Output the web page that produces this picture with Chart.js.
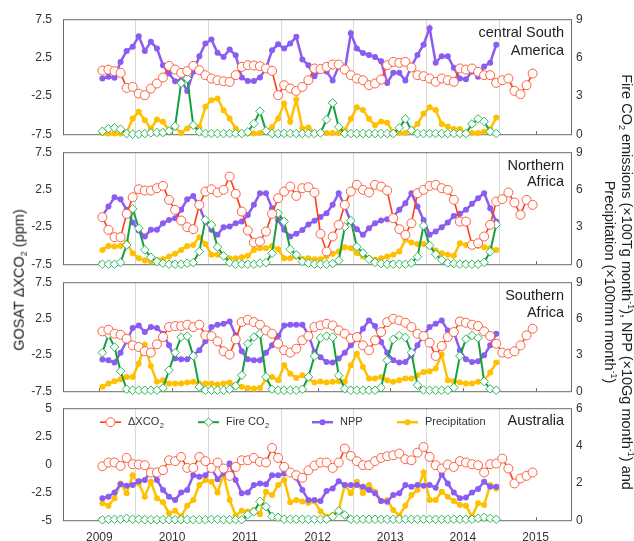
<!DOCTYPE html>
<html>
<head>
<meta charset="utf-8">
<script src="https://cdn.jsdelivr.net/npm/chart.js@4.4.1/dist/chart.umd.min.js"></script>
<style>
  body { margin: 0; background: #fff; }
  #wrap { position: relative; width: 634px; height: 541px; overflow: hidden; font-family: 'Liberation Sans', Arial, sans-serif; color: #222; }
  #wrap canvas { position: absolute; left: 0; }
  .axis-title { position: absolute; white-space: nowrap; font-size: 14.5px; line-height: 1; }
  .axis-title sub, .axis-title sup { font-size: 9px; line-height: 0; }
  .axis-title sub { vertical-align: -3px; }
  .axis-title sup { vertical-align: 6px; }
</style>
</head>
<body>
<div id="wrap">
  <canvas id="p0"></canvas>
  <canvas id="p1"></canvas>
  <canvas id="p2"></canvas>
  <canvas id="p3"></canvas>
  <div class="axis-title" style="left:19px;top:280px;transform:translate(-50%,-50%) rotate(-90deg)">GOSAT ΔXCO<sub>2</sub> (ppm)</div>
  <div class="axis-title" style="left:627px;top:282px;transform:translate(-50%,-50%) rotate(90deg)">Fire CO<sub>2</sub> emissions (×100Tg month<sup>-1</sup>), NPP (×10Gg month<sup>-1</sup>) and</div>
  <div class="axis-title" style="left:610px;top:282px;transform:translate(-50%,-50%) rotate(90deg)">Precipitation (×100mm month<sup>-1</sup>)</div>
</div>
<script>
// monthly series start in July 2009
const startYear = 2009;
const startMonth = 7;
const yearLabels = ['2009', '2010', '2011', '2012', '2013', '2014', '2015'];

// central South America
const csaXco2 = [0.8, 0.93, 0.72, 0.5, -1.46, -1.33, -2.2, -2.41, -1.54, -0.89,
  -0.11, 1.41, 0.93, 0.5, 0.72, 1.41, 0.85, 0.2, -0.24, -0.46,
  -0.59, -0.67, 0.2, 1.28, 1.5, 1.46, 1.37, 1.07, 0.76, -2.41,
  -1.11, -1.54, -1.85, -1.33, -0.46, 1.07, 1.0, 1.28, 1.59, 1.59,
  0.93, 0.2, -0.24, -0.46, -1.11, -0.89, -0.37, 1.5, 1.93, 1.8,
  1.93, 1.2, 0.2, 0.07, -0.24, -0.67, -0.24, -0.46, -0.67, 1.07,
  0.93, 1.07, 0.63, 0.2, 0.2, -0.8, -0.46, -0.24, -1.85, -2.28,
  -1.11, 0.41];
const csaFire = [0.23, 0.44, 0.5, 0.39, 0.05, 0, 0, 0.05, 0.1, 0.13,
  0.13, 0.26, 0.63, 4.0, 4.36, 0.7, 0.18, 0.05, 0.05, 0.05,
  0.05, 0.05, 0.05, 0.05, 0.18, 0.83, 1.8, 0.26, 0.05, 0.05,
  0.05, 0.05, 0.05, 0.05, 0.05, 0.05, 0.1, 1.15, 2.45, 0.57,
  0.05, 0.05, 0.05, 0.05, 0.05, 0.05, 0.05, 0.05, 0.05, 0.5,
  1.2, 0.3, 0.05, 0.05, 0.05, 0.05, 0.05, 0.05, 0.05, 0.05,
  0.05, 0.8, 1.2, 1.0, 0.2, 0.05];
const csaNpp = [4.36, 4.49, 4.41, 5.66, 6.52, 6.84, 7.67, 6.52, 7.23, 6.71,
  5.4, 4.75, 4.15, 4.23, 3.39, 4.88, 6.1, 7.1, 7.41, 6.37,
  6.05, 6.63, 6.18, 4.43, 4.17, 4.17, 4.43, 5.14, 6.57, 7.04,
  6.71, 7.1, 7.62, 5.84, 5.4, 4.54, 5.0, 4.9, 4.2, 5.3,
  5.0, 7.9, 6.7, 6.35, 6.2, 6.05, 5.7, 4.0, 4.8, 4.8,
  4.2, 5.3, 6.2, 7.0, 8.3, 5.6, 6.1, 6.1, 5.2, 4.35,
  4.3, 4.9, 4.5, 5.3, 5.6, 7.0];
const csaPrecip = [0.1, 0.05, 0.05, 0.05, 0.13, 1.23, 1.75, 1.1, 0.44, 1.15,
  0.97, 0.31, 0.52, 0.1, 0.44, 0.7, 0.57, 2.14, 2.66, 2.79,
  1.88, 1.23, 0.44, 0.1, 0.05, 0.05, 0.1, 0.23, 0.57, 1.23,
  2.4, 0.97, 2.71, 0.44, 0.52, 0.1, 0.1, 0.1, 0.1, 0.1,
  0.3, 1.2, 2.1, 1.9, 1.2, 0.7, 1.0, 0.9, 0.15, 0.1,
  0.1, 0.3, 0.8, 1.6, 2.1, 1.9, 0.8, 0.6, 0.4, 0.4,
  0.1, 0.1, 0.1, 0.2, 0.4, 1.3];

// Northern Africa
const nafXco2 = [-1.2, -2.9, -3.88, -3.88, -0.76, 1.47, 2.54, 2.37, 2.37, 2.68,
  2.99, 1.12, -0.22, -1.65, -2.54, -2.81, 0.45, 2.23, 2.54, 2.1,
  2.46, 4.24, 1.92, -0.45, -2.99, -4.6, -4.46, -3.12, -0.76, 1.34,
  2.23, 2.9, 1.65, 2.68, 2.81, 2.1, -3.44, -5.8, -3.79, -2.23,
  0.45, 2.23, 3.13, 2.46, 2.1, 3.13, 2.9, 2.37, -1.34, -2.81,
  -3.57, -2.01, 2.01, 2.46, 2.99, 3.13, 2.68, 2.46, 1.12, -1.79,
  -1.79, -4.91, -4.69, -3.79, -2.23, 0.89, 1.21, 2.1, 0.76, -0.89,
  1.12, 0.45];
const nafFire = [0, 0, 0, 0.13, 1.55, 4.45, 2.89, 1.15, 0.56, 0.21,
  0.08, 0, 0, 0, 0.08, 0.13, 1.02, 3.56, 3.16, 1.37,
  0.67, 0.13, 0, 0, 0, 0, 0.08, 0.13, 0.88, 4.1,
  3.43, 1.2, 0.75, 0.21, 0.08, 0, 0, 0, 0.05, 0.3,
  3.0, 3.5, 1.4, 0.9, 0.4, 0.15, 0.05, 0, 0, 0,
  0, 0.1, 0.6, 3.1, 1.5, 0.8, 0.35, 0.1, 0.05, 0,
  0, 0, 0, 0.15, 1.0, 3.2];
const nafNpp = [3.88, 4.63, 5.38, 5.22, 4.37, 3.35, 2.71, 2.22, 2.76, 2.76,
  3.3, 3.56, 3.7, 4.37, 5.22, 5.49, 4.63, 3.43, 2.76, 2.36,
  2.97, 3.03, 3.3, 3.43, 3.96, 4.77, 5.71, 5.71, 4.5, 3.56,
  2.76, 2.22, 2.44, 2.74, 3.2, 3.5, 3.8, 4.1, 4.77, 5.71,
  4.63, 3.43, 2.81, 2.36, 2.89, 3.3, 3.51, 3.62, 3.83, 4.37,
  4.9, 5.71, 4.63, 3.56, 2.36, 2.63, 2.97, 3.35, 3.88, 4.05,
  4.37, 4.85, 5.3, 5.71, 4.5, 3.43];
const nafPrecip = [1.15, 1.47, 1.42, 1.47, 1.74, 0.88, 0.48, 0.29, 0.21, 0.35,
  0.4, 0.62, 0.83, 1.15, 1.47, 1.55, 2.17, 1.63, 0.75, 0.75,
  0.67, 0.48, 0.48, 0.56, 0.67, 1.15, 1.29, 1.29, 1.47, 1.21,
  0.48, 0.48, 0.62, 0.44, 0.48, 0.4, 0.4, 0.62, 0.83, 1.02,
  1.37, 1.29, 0.88, 0.62, 0.48, 0.35, 0.48, 0.62, 0.75, 1.02,
  1.96, 1.74, 1.63, 1.63, 1.47, 1.1, 0.88, 0.75, 0.67, 1.69,
  1.55, 1.47, 1.47, 1.37, 1.29, 1.15];

// Southern Africa
const safXco2 = [0.73, 0.96, 0.41, 0.27, -0.27, -1.19, -1.42, -2.01, -2.19, -1.05,
  -0.05, 1.33, 1.46, 1.46, 1.65, 1.33, 1.65, 0.18, 0.09, -0.64,
  -2.01, -2.47, -0.37, 2.01, 2.33, 2.01, 1.65, 0.87, 0.41, -0.96,
  -1.87, -2.19, -1.65, -0.5, 0.09, 1.33, 1.55, 1.78, 1.55, 0.87,
  0.41, -0.27, -0.05, -1.19, -1.87, -0.5, 0.64, 2.01, 2.47, 2.24,
  1.92, 1.33, 0.41, 0.09, -0.82, -2.65, -1.28, -0.05, 0.64, 2.1,
  1.92, 1.65, 1.46, 0.73, 0.09, -0.96, -2.19, -2.33, -2.01, -1.19,
  0.18, 1.1];
const safFire = [3.18, 4.66, 3.65, 1.65, 0.16, 0.08, 0.08, 0.08, 0.08, 0.08,
  0.27, 1.73, 3.18, 4.47, 4.55, 2.91, 0.36, 0.08, 0.08, 0.08,
  0.08, 0.16, 0.44, 1.32, 3.92, 4.47, 4.75, 1.18, 0.16, 0.08,
  0.08, 0.08, 0.08, 0.16, 1.18, 2.9, 4.4, 4.55, 4.47, 1.3,
  0.2, 0.08, 0.08, 0.08, 0.08, 0.08, 0.3, 2.55, 4.28, 4.6,
  4.45, 3.2, 0.5, 0.1, 0.08, 0.08, 0.08, 0.08, 0.3, 2.9,
  4.3, 4.6, 4.4, 0.8, 0.2, 0.08];
const safNpp = [2.61, 2.55, 2.36, 3.18, 4.12, 5.21, 5.43, 4.88, 5.3, 5.21,
  4.75, 3.79, 2.69, 2.63, 2.63, 2.96, 3.38, 4.12, 5.3, 5.49,
  5.57, 5.76, 4.61, 3.29, 2.63, 2.55, 2.55, 3.18, 3.79, 4.55,
  5.43, 5.49, 5.49, 5.49, 4.65, 3.24, 2.8, 2.41, 2.36, 2.69,
  3.18, 3.79, 4.34, 5.16, 5.84, 5.38, 4.06, 3.18, 2.55, 2.36,
  2.41, 2.96, 3.79, 4.61, 5.3, 5.57, 5.84, 5.02, 4.88, 3.38,
  2.63, 2.41, 2.47, 2.96, 3.79, 4.75];
const safPrecip = [0.36, 0.63, 0.82, 0.99, 1.18, 1.18, 2.28, 3.84, 2.09, 0.77,
  0.91, 0.63, 0.63, 0.63, 0.71, 0.77, 0.63, 0.63, 0.63, 0.55,
  0.63, 0.71, 0.49, 0.36, 0.27, 0.22, 0.27, 0.99, 1.18, 0.91,
  2.14, 1.45, 1.1, 1.32, 1.04, 0.71, 0.8, 0.71, 0.77, 0.82,
  0.77, 2.14, 3.1, 2.0, 1.04, 1.04, 1.18, 0.91, 0.77, 0.91,
  1.04, 1.04, 1.32, 1.59, 1.65, 1.87, 3.02, 0.91, 0.82, 0.71,
  0.63, 0.63, 0.77, 0.91, 1.54, 2.36];

// Australia
const ausXco2 = [-0.18, 0.15, 0.15, -0.15, 0.56, 0.0, -0.03, -0.09, -0.74, -0.74,
  -0.53, 0.35, 0.27, 0.65, -0.33, -0.33, 0.65, 0.27, -0.33, 0.15,
  -0.39, -1.04, -0.24, 0.35, 0.35, 0.56, 0.21, 0.15, 1.45, 0.56,
  -0.24, -0.74, -0.98, -1.21, -0.55, -0.12, 0.15, 0.15, -0.33, 0.15,
  1.39, 0.74, 0.27, -0.09, -0.09, 0.27, 0.56, 0.71, 0.8, 0.95,
  0.44, 0.35, 1.03, 1.54, 0.65, -0.09, -0.39, -0.03, -0.24, 0.27,
  0.15, 0.0, -0.09, -0.74, 0.0, 0.06, 0.5, -0.39, -1.72, -1.27,
  -1.04, -0.74];
const ausFire = [0.02, 0.05, 0.05, 0.05, 0.1, 0.05, 0.05, 0.03, 0.03, 0.03,
  0.03, 0.03, 0.03, 0.03, 0.03, 0.03, 0.03, 0.03, 0.05, 0.05,
  0.03, 0.03, 0.03, 0.03, 0.3, 0.45, 1.0, 0.73, 0.2, 0.15,
  0.05, 0.05, 0.05, 0.05, 0.05, 0.05, 0.05, 0.05, 0.2, 0.5,
  0.28, 0.05, 0.05, 0.05, 0.05, 0.05, 0.05, 0.05, 0.05, 0.05,
  0.05, 0.05, 0.05, 0.05, 0.05, 0.05, 0.05, 0.05, 0.05, 0.05,
  0.05, 0.05, 0.1, 0.15, 0.1, 0.05];
const ausNpp = [1.17, 1.26, 1.49, 1.92, 1.85, 1.88, 2.09, 2.15, 2.63, 2.15,
  1.62, 1.26, 1.08, 1.49, 1.62, 2.41, 2.33, 2.41, 2.77, 2.2,
  2.5, 3.04, 2.15, 1.44, 1.49, 1.88, 1.97, 1.92, 2.41, 2.41,
  2.5, 2.56, 2.27, 1.62, 1.08, 1.08, 1.03, 1.56, 1.7, 2.09,
  1.88, 1.88, 1.88, 1.79, 1.62, 1.44, 1.03, 0.99, 1.35, 1.44,
  1.88, 1.79, 1.88, 1.85, 1.88, 1.74, 2.45, 1.97, 1.49, 1.17,
  1.21, 1.49, 1.67, 2.06, 1.79, 1.79];
const ausPrecip = [0.91, 0.78, 1.17, 1.97, 1.44, 2.41, 1.97, 1.26, 2.06, 1.17,
  0.96, 0.37, 0.5, 0.2, 0.78, 1.08, 1.88, 2.15, 2.06, 1.49,
  2.45, 1.08, 0.25, 0.5, 0.46, 0.55, 0.32, 1.53, 1.35, 1.88,
  2.15, 0.96, 1.08, 1.0, 0.93, 1.0, 0.48, 0.2, 0.28, 0.55,
  1.88, 1.44, 2.06, 1.44, 1.88, 1.53, 1.03, 1.08, 0.55, 0.25,
  0.78, 1.35, 1.62, 2.56, 1.08, 1.08, 1.53, 1.26, 1.03, 0.82,
  0.78, 0.2, 0.91, 0.82, 1.88, 1.7];

const RED = '#ff3d17', RED_PT = '#ff5e3e';
const GREEN = '#15a040', GREEN_PT = '#2fb75a';
const PURPLE = '#8b5cf2';
const GOLD = '#ffc000';
const FRAME = '#6b6b6b';
const FONT = "'Liberation Sans', Arial, sans-serif";

Chart.defaults.font.family = FONT;
Chart.defaults.font.size = 12;
Chart.defaults.color = '#333';

// plot position in years: middle of each month
function monthPos(i) {
  const m = startMonth - 1 + i;
  return startYear + Math.floor(m / 12) + ((m % 12) + 0.5) / 12;
}
function toPoints(values) {
  return values.map((v, i) => ({ x: monthPos(i), y: v }));
}

const panels = [
  { id: 'p0', top: 19, bottom: 134, name: ['central South', 'America'], nameDy: [14, 32],
    xco2: csaXco2, fire: csaFire, npp: csaNpp, precip: csaPrecip,
    left: [-7.5, 7.5, 5], right: [0, 9, 3] },
  { id: 'p1', top: 152, bottom: 264, name: ['Northern', 'Africa'], nameDy: [14, 30],
    xco2: nafXco2, fire: nafFire, npp: nafNpp, precip: nafPrecip,
    left: [-7.5, 7.5, 5], right: [0, 9, 3] },
  { id: 'p2', top: 282, bottom: 391, name: ['Southern', 'Africa'], nameDy: [14, 31],
    xco2: safXco2, fire: safFire, npp: safNpp, precip: safPrecip,
    left: [-7.5, 7.5, 5], right: [0, 9, 3] },
  { id: 'p3', top: 408, bottom: 520, name: ['Australia'], nameDy: [12.5],
    xco2: ausXco2, fire: ausFire, npp: ausNpp, precip: ausPrecip,
    left: [-5, 5, 2.5], right: [0, 6, 2] }
];

// box around the plot plus short inward year ticks on the bottom edge
const framePlugin = {
  id: 'frame',
  beforeDatasetsDraw(chart) {
    const { ctx, chartArea: a, scales } = chart;
    ctx.save();
    ctx.strokeStyle = FRAME;
    ctx.lineWidth = 1;
    ctx.strokeRect(a.left + 0.5, a.top + 0.5, a.right - a.left - 1, a.bottom - a.top);
    ctx.beginPath();
    yearLabels.forEach((y, i) => {
      const px = Math.round(scales.x.getPixelForValue(2009.5 + i)) + 0.5;
      ctx.moveTo(px, a.bottom);
      ctx.lineTo(px, a.bottom - 3);
    });
    ctx.stroke();
    ctx.restore();
  }
};

const namePlugin = {
  id: 'panelName',
  afterDraw(chart, args, opts) {
    const { ctx, chartArea: a } = chart;
    ctx.save();
    ctx.font = '14.5px ' + FONT;
    ctx.fillStyle = '#222';
    ctx.textAlign = 'right';
    ctx.textBaseline = 'middle';
    opts.lines.forEach((t, i) => ctx.fillText(t, a.right - 8, a.top + opts.dy[i]));
    ctx.restore();
  }
};

function drawMarker(ctx, style, x, y, r, fill, stroke) {
  ctx.beginPath();
  if (style === 'rectRot') {
    ctx.moveTo(x - r, y); ctx.lineTo(x, y - r); ctx.lineTo(x + r, y); ctx.lineTo(x, y + r); ctx.closePath();
  } else {
    ctx.arc(x, y, r, 0, Math.PI * 2);
  }
  ctx.fillStyle = fill;
  ctx.fill();
  if (stroke) { ctx.strokeStyle = stroke; ctx.lineWidth = 1; ctx.stroke(); }
}

const legendItems = [
  { text: 'ΔXCO', sub: '2', ds: 0, x: 100 },
  { text: 'Fire CO', sub: '2', ds: 1, x: 198 },
  { text: 'NPP', sub: '', ds: 2, x: 312 },
  { text: 'Precipitation', sub: '', ds: 3, x: 397 }
];

const legendPlugin = {
  id: 'customLegend',
  afterDraw(chart) {
    const { ctx, chartArea: a } = chart;
    const y = a.top + 14;
    ctx.save();
    legendItems.forEach(it => {
      const ds = chart.data.datasets[it.ds];
      ctx.strokeStyle = ds.borderColor;
      ctx.lineWidth = ds.borderWidth;
      ctx.beginPath();
      ctx.moveTo(it.x, y); ctx.lineTo(it.x + 21, y);
      ctx.stroke();
      drawMarker(ctx, ds.pointStyle, it.x + 10.5, y, ds.pointRadius, ds.pointBackgroundColor,
        ds.pointBorderWidth ? ds.pointBorderColor : null);
      ctx.fillStyle = '#333';
      ctx.textAlign = 'left';
      ctx.textBaseline = 'middle';
      ctx.font = '11px ' + FONT;
      ctx.fillText(it.text, it.x + 28, y);
      if (it.sub) {
        const w = ctx.measureText(it.text).width;
        ctx.font = '7.5px ' + FONT;
        ctx.fillText(it.sub, it.x + 28 + w + 0.5, y + 3.5);
      }
    });
    ctx.restore();
  }
};

panels.forEach((p, k) => {
  const isLast = k === panels.length - 1;
  const padTop = 10;
  const padBottom = isLast ? 541 - p.bottom : 10;
  const canvas = document.getElementById(p.id);
  canvas.width = 634;
  canvas.height = p.bottom - p.top + padTop + padBottom;

  const plugins = [framePlugin, namePlugin];
  if (isLast) plugins.push(legendPlugin);

  const chart = new Chart(canvas, {
    type: 'line',
    data: {
      datasets: [
        { label: 'ΔXCO2', data: toPoints(p.xco2), yAxisID: 'yL',
          borderColor: RED, borderWidth: 1.6, pointStyle: 'circle', pointRadius: 4.5,
          pointBorderWidth: 1, pointBorderColor: RED_PT, pointBackgroundColor: '#fff', clip: false },
        { label: 'Fire CO2', data: toPoints(p.fire), yAxisID: 'yR',
          borderColor: GREEN, borderWidth: 2, pointStyle: 'rectRot', pointRadius: 4.3,
          pointBorderWidth: 1, pointBorderColor: GREEN_PT, pointBackgroundColor: '#fff', clip: false },
        { label: 'NPP', data: toPoints(p.npp), yAxisID: 'yR',
          borderColor: PURPLE, borderWidth: 2.5, pointStyle: 'circle', pointRadius: 3,
          pointBorderWidth: 0, pointBackgroundColor: PURPLE, clip: false },
        { label: 'Precipitation', data: toPoints(p.precip), yAxisID: 'yR',
          borderColor: GOLD, borderWidth: 2.5, pointStyle: 'circle', pointRadius: 3,
          pointBorderWidth: 0, pointBackgroundColor: GOLD, clip: false }
      ]
    },
    options: {
      responsive: false,
      maintainAspectRatio: false,
      animation: false,
      devicePixelRatio: 1,
      layout: { padding: { top: padTop, left: 0, right: 0, bottom: 0 } },
      elements: { line: { tension: 0 } },
      plugins: {
        legend: { display: false },
        tooltip: { enabled: false },
        panelName: { lines: p.name, dy: p.nameDy }
      },
      scales: {
        x: {
          type: 'linear', position: 'bottom', min: 2009, max: 2016,
          afterBuildTicks(scale) {
            const t = [];
            for (let v = 2009; v <= 2016; v += 0.5) t.push({ value: v });
            scale.ticks = t;
          },
          afterFit(scale) { scale.height = padBottom; },
          border: { display: false },
          grid: {
            drawTicks: false, tickLength: 0,
            color: c => (c.tick && Number.isInteger(c.tick.value) && c.tick.value > 2009 && c.tick.value < 2016) ? '#d9d9d9' : 'rgba(0,0,0,0)'
          },
          ticks: {
            display: isLast, autoSkip: false, maxRotation: 0, padding: 10,
            font: { size: 12 }, color: '#333',
            callback: v => (v % 1 === 0.5 ? yearLabels[Math.floor(v) - 2009] : '')
          }
        },
        yL: {
          type: 'linear', position: 'left', min: p.left[0], max: p.left[1],
          afterFit(scale) { scale.width = 63; },
          border: { display: false },
          grid: { display: false, drawTicks: false, tickLength: 0 },
          ticks: { stepSize: p.left[2], padding: 11, font: { size: 12 }, color: '#333' }
        },
        yR: {
          type: 'linear', position: 'right', min: p.right[0], max: p.right[1],
          afterFit(scale) { scale.width = 62; },
          border: { display: false },
          grid: { display: false, drawTicks: false, tickLength: 0 },
          ticks: { stepSize: p.right[2], padding: 4, font: { size: 12 }, color: '#333' }
        }
      }
    },
    plugins: plugins
  });

  // the layout adds some room for tick labels; correct the canvas so the plot box lands where it should
  const a = chart.chartArea;
  const extra = (p.bottom - p.top) - (a.bottom - a.top);
  if (extra !== 0) chart.resize(634, canvas.height + extra);
  canvas.style.top = (p.top - chart.chartArea.top) + 'px';
});
</script>
</body>
</html>
